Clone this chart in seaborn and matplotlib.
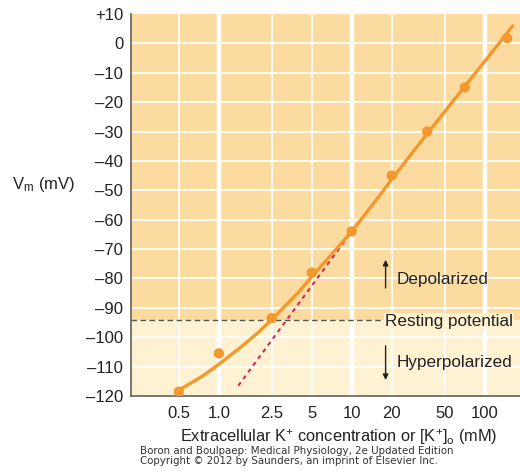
import matplotlib
matplotlib.use("Agg")
import matplotlib.pyplot as plt
import seaborn as sns
import pandas as pd
from matplotlib.ticker import FixedLocator, NullLocator

# ---- data ----
point_k = [0.5, 1.0, 2.5, 5, 10, 20, 37, 71, 148]
point_v = [-118.5, -105.5, -93.5, -78.0, -64.0, -45.0, -30.0, -15.0, 1.8]

curve_k = [0.5, 0.75, 1.0, 1.5, 2.0, 2.5, 3.0, 4.0, 5.0, 7.0, 10, 15, 20, 30, 50, 70, 100, 130, 163]
curve_v = [-118.0, -113.3, -109.2, -103.0, -98.2, -94.0, -90.4, -84.6, -79.4, -72.0, -64.0, -53.8,
           -46.3, -36.0, -23.3, -15.0, -6.2, 0.3, 6.0]

nernst_k = [1.4, 10]
nernst_v = [-116.5, -64.0]

resting_v = -94.0

x_ticks = [0.5, 1.0, 2.5, 5, 10, 20, 50, 100]
x_tick_labels = ["0.5", "1.0", "2.5", "5", "10", "20", "50", "100"]
major_lines = [1, 10, 100]
y_ticks = list(range(10, -121, -10))
y_tick_labels = ["+10", "0"] + ["\u2013" + str(-v) for v in y_ticks[2:]]

# ---- styling ----
sns.set_style("white")
plt.rcParams["font.family"] = ["Liberation Sans", "DejaVu Sans"]
plt.rcParams["mathtext.fontset"] = "custom"
plt.rcParams["mathtext.rm"] = "Liberation Sans"
plt.rcParams["mathtext.it"] = "Liberation Sans:italic"

ORANGE_BG = "#fcdba0"
CREAM_BG = "#fef2d3"
LINE_COL = "#f3982c"
AX_COL = "#6b6b6b"
TXT = "#222222"

fig = plt.figure(figsize=(5.2, 4.71), dpi=100)
ax = fig.add_axes([131 / 520, 1 - 396 / 471, (520 - 131) / 520, (396 - 14) / 471])

ax.set_xscale("log")
ax.set_xlim(0.218, 185)
ax.set_ylim(-120, 10)

# background bands
ax.axhspan(resting_v, 10, color=ORANGE_BG, lw=0, zorder=0)
ax.axhspan(-120, resting_v, color=CREAM_BG, lw=0, zorder=0)

# white grid
for v in y_ticks[1:]:
    ax.axhline(v, color="white", lw=1.3, zorder=1)
for k in x_ticks:
    if k in major_lines:
        ax.axvline(k, color="white", lw=3.2, zorder=1)
    else:
        ax.axvline(k, color="white", lw=1.3, zorder=1)

# resting potential dashed line
ax.plot([0.218, 16.8], [resting_v, resting_v], color="#555555", lw=1.0,
        dashes=(4, 2.5), zorder=2)

# Nernst dotted line
sns.lineplot(x=nernst_k, y=nernst_v, ax=ax, color="#d6265c", lw=1.5,
             zorder=3, sort=False)
ax.lines[-1].set_dashes((2, 2))

# fitted curve and points
curve_df = pd.DataFrame({"k": curve_k, "v": curve_v})
sns.lineplot(data=curve_df, x="k", y="v", ax=ax, color=LINE_COL, lw=2.4, zorder=4)
pts_df = pd.DataFrame({"k": point_k, "v": point_v})
sns.scatterplot(data=pts_df, x="k", y="v", ax=ax, color=LINE_COL, s=55,
                edgecolor="none", zorder=5)

# annotations
ax.annotate("", xy=(18.0, -72.7), xytext=(18.0, -84.2),
            arrowprops=dict(arrowstyle="-|>", color=TXT, lw=1.0,
                            mutation_scale=8), zorder=6)
ax.annotate("", xy=(18.0, -115.5), xytext=(18.0, -102.0),
            arrowprops=dict(arrowstyle="-|>", color=TXT, lw=1.0,
                            mutation_scale=8), zorder=6)
ax.text(21.8, -80.3, "Depolarized", fontsize=12.3, color=TXT,
        va="center", ha="left", zorder=6)
ax.text(21.8, -108.6, "Hyperpolarized", fontsize=12.3, color=TXT,
        va="center", ha="left", zorder=6)
ax.text(17.8, resting_v - 0.6, "Resting potential", fontsize=12.3, color=TXT,
        va="center", ha="left", zorder=6,
        bbox=dict(facecolor=CREAM_BG, edgecolor="none", pad=0.5))

# axes and ticks
for s in ["top", "right"]:
    ax.spines[s].set_visible(False)
for s in ["left", "bottom"]:
    ax.spines[s].set_color(AX_COL)
    ax.spines[s].set_linewidth(1.3)
ax.xaxis.set_major_locator(FixedLocator(x_ticks))
ax.xaxis.set_minor_locator(NullLocator())
ax.set_xticklabels(x_tick_labels)
ax.set_yticks(y_ticks)
ax.set_yticklabels(y_tick_labels)
ax.tick_params(axis="both", direction="in", length=7, width=1.3, color=AX_COL,
               labelsize=12, labelcolor=TXT)
ax.tick_params(axis="x", pad=7.2)
ax.tick_params(axis="y", pad=5.5)
ax.set_xlabel("")
ax.set_ylabel("")

fig.text(339 / 520, 1 - 437 / 471,
         "Extracellular K$^{+}$ concentration or [K$^{+}$]$_{\\mathrm{o}}$ (mM)",
         fontsize=11.8, color=TXT, ha="center", va="center")
fig.text(44 / 520, 1 - 184 / 471, "V$_{\\mathrm{m}}$ (mV)", fontsize=12,
         color=TXT, ha="center", va="center")
fig.text(140 / 520, 1 - 451 / 471,
         "Boron and Boulpaep: Medical Physiology, 2e Updated Edition",
         fontsize=7.4, color="#333333", ha="left", va="center",
         family=["DejaVu Sans"])
fig.text(140 / 520, 1 - 460.5 / 471,
         "Copyright \u00a9 2012 by Saunders, an imprint of Elsevier Inc.",
         fontsize=7.4, color="#333333", ha="left", va="center",
         family=["DejaVu Sans"])

fig.savefig("out.png", dpi=100)
